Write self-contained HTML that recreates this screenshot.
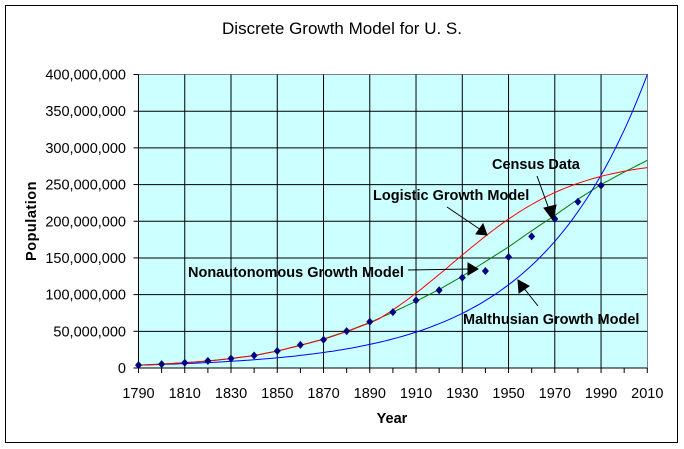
<!DOCTYPE html>
<html><head><style>
body{margin:0;background:#fff;}
svg{display:block;font-family:"Liberation Sans",Arial,sans-serif;}
</style></head><body>
<svg id="s" width="684" height="449" xmlns="http://www.w3.org/2000/svg">
<rect x="0" y="0" width="684" height="449" fill="#fff"/>
<rect x="5.5" y="5.5" width="672" height="437" fill="none" stroke="#000" stroke-width="1"/>
<text x="342" y="34" font-size="17" text-anchor="middle">Discrete Growth Model for U. S.</text>
<rect x="138.5" y="74.5" width="509" height="293.5" fill="#ccffff" stroke="#808080"/>
<g id="grid" stroke="#000" stroke-width="1"></g>
<g id="lbl" font-size="14.5"></g>
<g id="series" fill="none" stroke-width="1"></g>
<g id="pts" fill="#000080"></g>
<text x="392" y="423" font-size="14.5" font-weight="bold" text-anchor="middle">Year</text>
<text transform="translate(36,221) rotate(-90)" font-size="14.5" font-weight="bold" text-anchor="middle" letter-spacing="0.5">Population</text>
<g font-size="14.5" font-weight="bold">
<text x="492" y="169">Census Data</text>
<text x="373" y="200">Logistic Growth Model</text>
<text x="188" y="277">Nonautonomous Growth Model</text>
<text x="463" y="324">Malthusian Growth Model</text>
</g>
<g stroke="#000" fill="#000">
<line x1="537" y1="176" x2="550" y2="212"/><polygon points="553,220 544,208 556,205"/>
<line x1="447" y1="207" x2="481" y2="230"/><polygon points="487,235 476,234 483,224"/>
<line x1="408" y1="270" x2="470" y2="269"/><polygon points="478,269 468,263 468,275"/>
<line x1="538" y1="306" x2="523" y2="287"/><polygon points="518,280 519,293 529,286"/>
</g>
</svg>
<script>
var L=138.5,R=647.3,T=74.5,B=368;
function X(y){return L+(y-1790)/220*(R-L);}
function Y(p){return B-p/400*(B-T);}
var ns="http://www.w3.org/2000/svg";
function el(par,tag,a,txt){var e=document.createElementNS(ns,tag);for(var k in a)e.setAttribute(k,a[k]);if(txt)e.textContent=txt;document.getElementById(par).appendChild(e);return e;}
for(var i=1;i<=7;i++){var y=Y(i*50);el("grid","line",{x1:L,x2:R,y1:y,y2:y});}
for(var yr=1810;yr<2010;yr+=20){el("grid","line",{x1:X(yr),x2:X(yr),y1:T,y2:B});}
for(var i=0;i<=8;i++){var y=Y(i*50);el("grid","line",{x1:L-5,x2:L,y1:y,y2:y});
 var s=(i*50000000).toLocaleString("en-US");el("lbl","text",{x:126,y:y+5,"text-anchor":"end"},s);}
for(var yr=1790;yr<=2010;yr+=10){el("grid","line",{x1:X(yr),x2:X(yr),y1:B,y2:B+5});}
for(var yr=1790;yr<=2010;yr+=20){el("lbl","text",{x:X(yr),y:398,"text-anchor":"middle"},String(yr));}
el("grid","line",{x1:L,x2:R,y1:B,y2:B});el("grid","line",{x1:L,x2:L,y1:T,y2:B});
function poly(f,c){var p=[];for(var yr=1790;yr<=2010;yr+=2){var v=f(yr);if(v>400)v=400;p.push(X(yr).toFixed(1)+","+Y(v).toFixed(1));}
 el("series","polyline",{points:p.join(" "),stroke:c});}
var g=[3.9,5.3,7.2,9.6,12.9,17.1,23.2,31,39.5,50,62,76,91,107,125,145,165,187,208,230,250,267,283];
function gf(yr){var t=(yr-1790)/10,i=Math.min(Math.floor(t),21),f=t-i;return g[i]+(g[i+1]-g[i])*f;}
poly(gf,"#008000");
poly(function(yr){return 3.93*Math.exp(Math.log(400/3.93)/220*(yr-1790));},"#0000ff");
poly(function(yr){var v=285/(1+0.851*Math.exp(-0.0372*(yr-1930)));return yr<1900?Math.max(v,gf(yr)*0.99):v;},"#ff0000");
var d=[3.93,5.31,7.24,9.64,12.87,17.07,23.19,31.44,38.56,50.19,62.98,76.21,92.23,106.02,123.2,132.16,151.33,179.32,203.3,226.54,248.71];
d.forEach(function(v,i){var x=X(1790+i*10),y=Y(v);el("pts","polygon",{points:(x)+","+(y-4)+" "+(x+3.5)+","+y+" "+x+","+(y+4)+" "+(x-3.5)+","+y});});
</script>
</body></html>
